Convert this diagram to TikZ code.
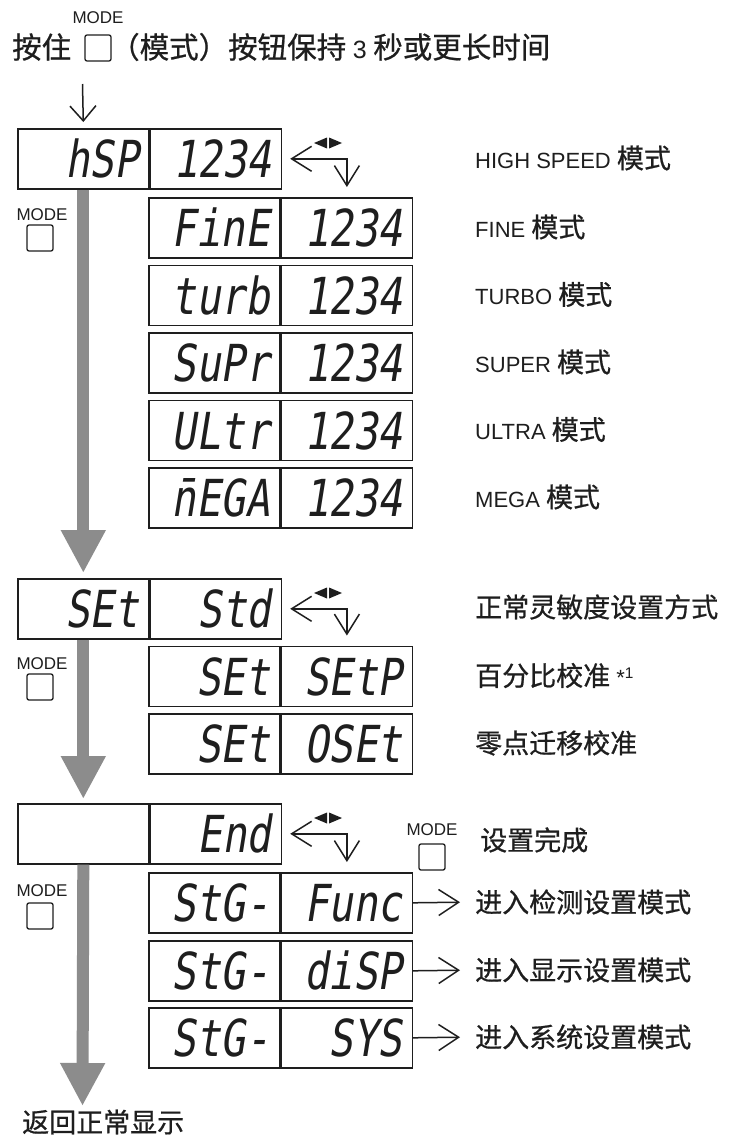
\documentclass[tikz,border=0pt]{standalone}
\usepackage{fontspec}
\setmainfont{Noto Sans CJK SC}[FakeBold=0.7]
\newfontfamily\lat{Liberation Sans}
\newfontfamily\seg{DejaVu Sans Mono}[FakeSlant=0.16,FakeStretch=0.8]
\usetikzlibrary{arrows.meta}
\definecolor{ink}{HTML}{1E1E1E}
\definecolor{barc}{HTML}{8C8C8C}
\newcommand\LatTxt[1]{{\lat\fontsize{22}{24}\selectfont #1}}
\begin{document}
\begin{tikzpicture}[x=1pt,y=-1pt,
  cell/.style={draw=ink, line width=1.6pt, rectangle, anchor=north west,
    text width=111pt, inner xsep=10pt, inner ysep=0pt, align=right,
    minimum height=60pt, text height=38pt, text depth=0pt,
    font=\seg\fontsize{51}{51}\selectfont, text=ink},
  lab/.style={anchor=west, inner sep=0pt, font=\fontsize{27}{30}\selectfont, text=ink},
  ttl/.style={anchor=west, inner sep=0pt, font=\fontsize{29.5}{32}\selectfont, text=ink},
  btn/.style={draw=ink, line width=1.3pt, rounded corners=2pt, minimum size=26pt, inner sep=0pt},
  modelbl/.style={font=\lat\fontsize{17}{17}\selectfont, inner sep=0pt, text=ink},
  bigarrow/.style={draw=barc, line width=12pt, -{Triangle[width=42pt,length=43pt]}, barc},
  cyc/.style={draw=ink, line width=1.5pt, {Straight Barb[length=20pt,width=25pt]}-{Straight Barb[length=20pt,width=25pt]}},
  outarr/.style={draw=ink, line width=1.5pt, -{Straight Barb[length=20pt,width=26pt]}, shorten >=15pt},
  thinarr/.style={draw=ink, line width=1.5pt, -{Straight Barb[length=15pt,width=26pt]}}
]
\fill[white] (0,0) rectangle (733,1140);
\useasboundingbox (0,0) rectangle (733,1140);

% title
\node[ttl] (t1) at (12,47) {按住};
\node[btn] (m0) at (98,48) {};
\node[modelbl] (m0l) at (98,18) {MODE};
\node[ttl] (t2) at (110,47) {（模式）按钮保持 {\lat\fontsize{25}{27}\selectfont 3} 秒或更长时间};

% group 1
\node[cell] (hspL) at (17,128) {hSP};
\node[cell] (hspR) at (hspL.north east) {1234};
\node[cell] (finL) at (148,197) {FinE};
\node[cell] (finR) at (finL.north east) {1234};
\node[cell] (turL) at (148,264.5) {turb};
\node[cell] (turR) at (turL.north east) {1234};
\node[cell] (supL) at (148,332) {SuPr};
\node[cell] (supR) at (supL.north east) {1234};
\node[cell] (ultL) at (148,399.5) {ULtr};
\node[cell] (ultR) at (ultL.north east) {1234};
\node[cell] (megL) at (148,467) {n̄EGA};
\node[cell] (megR) at (megL.north east) {1234};

% group 2
\node[cell] (setL) at (17,578) {SEt};
\node[cell] (setR) at (setL.north east) {Std};
\node[cell] (stpL) at (148,645.5) {SEt};
\node[cell] (stpR) at (stpL.north east) {SEtP};
\node[cell] (osL) at (148,713) {SEt};
\node[cell] (osR) at (osL.north east) {OSEt};

% group 3
\node[cell] (endL) at (17,803) {};
\node[cell] (endR) at (endL.north east) {End};
\node[cell] (fnL) at (148,872) {StG-};
\node[cell] (fnR) at (fnL.north east) {Func};
\node[cell] (dsL) at (148,940) {StG-};
\node[cell] (dsR) at (dsL.north east) {diSP};
\node[cell] (syL) at (148,1007) {StG-};
\node[cell] (syR) at (syL.north east) {SYS};

% title arrow
\coordinate (d0) at (82.5,84);
\draw[thinarr] (d0) -- ([yshift=6pt]hspL.north);

% big gray arrows
\coordinate (ret) at (82.5,1106);
\draw[bigarrow] (hspL.south) -- ([yshift=5pt]setL.north);
\draw[bigarrow] (setL.south) -- ([yshift=4pt]endL.north);
\draw[bigarrow] (endL.south) -- (ret);

% cycle arrows
\draw[cyc] ([xshift=8pt]hspR.east) -| ([yshift=10pt]finR.north);
\draw[cyc] ([xshift=8pt]setR.east) -| ([yshift=10pt]stpR.north);
\draw[cyc] ([xshift=8pt]endR.east) -| ([yshift=10pt]fnR.north);
\foreach \yy in {143,593,818}{
  \begin{scope}[shift={(328,\yy)}]
    \fill[ink] (-14,0) -- (-1,-5.5) -- (-1,5.5) -- cycle;
    \fill[ink] (14,0) -- (1,-5.5) -- (1,5.5) -- cycle;
  \end{scope}
}

% left MODE buttons
\node[modelbl] (m1l) at (42,215) {MODE};
\node[btn] (m1) at (40,238) {};
\node[modelbl] (m2l) at (42,664) {MODE};
\node[btn] (m2) at (40,687) {};
\node[modelbl] (m3l) at (42,891) {MODE};
\node[btn] (m3) at (40,916) {};
% right MODE button
\node[modelbl] (m4l) at (432,830) {MODE};
\node[btn] (m4) at (432,857) {};

% right labels
\node[lab] (l1) at (475,158) {\LatTxt{HIGH SPEED} 模式};
\node[lab] (l2) at (475,227) {\LatTxt{FINE} 模式};
\node[lab] (l3) at (475,294.5) {\LatTxt{TURBO} 模式};
\node[lab] (l4) at (475,362) {\LatTxt{SUPER} 模式};
\node[lab] (l5) at (475,429.5) {\LatTxt{ULTRA} 模式};
\node[lab] (l6) at (475,497) {\LatTxt{MEGA} 模式};
\node[lab] (l7) at (475,607) {正常灵敏度设置方式};
\node[lab] (l8) at (475,675.5) {百分比校准 \LatTxt{*\textsuperscript{1}}};
\node[lab] (l9) at (475,743) {零点迁移校准};
\node[lab] (l10) at (480,840) {设置完成};
\node[lab] (l11) at (475,902) {进入检测设置模式};
\node[lab] (l12) at (475,970) {进入显示设置模式};
\node[lab] (l13) at (475,1037) {进入系统设置模式};
\node[lab] (l14) at (22,1122) {返回正常显示};

% out arrows
\draw[outarr] (fnR.east) -- (l11.west);
\draw[outarr] (dsR.east) -- (l12.west);
\draw[outarr] (syR.east) -- (l13.west);
\end{tikzpicture}
\end{document}
